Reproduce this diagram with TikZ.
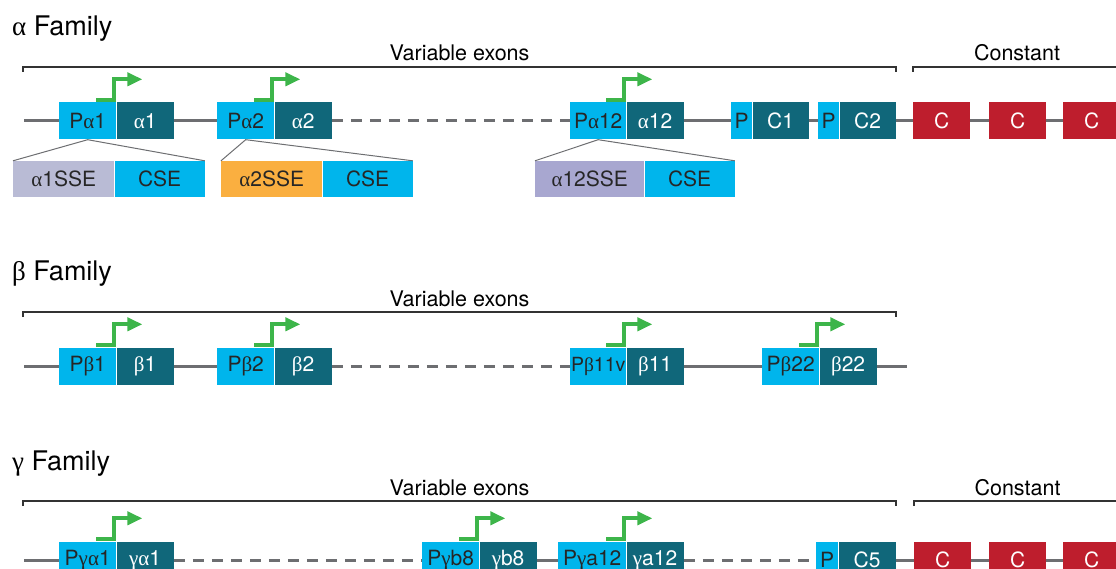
\documentclass[tikz,border=0pt]{standalone}
\usepackage{fontspec}
\setmainfont{TeX Gyre Heros}
\newfontfamily\greekfont{Liberation Serif}
\usetikzlibrary{positioning}
\usetikzlibrary{arrows.meta}
\definecolor{prom-cyan}{HTML}{00B5EC}
\definecolor{exon-teal}{HTML}{10677A}
\definecolor{const-red}{HTML}{BE1E2D}
\definecolor{tss-green}{HTML}{3DB54A}
\definecolor{line-gray}{HTML}{6D6E71}
\definecolor{sse-grey}{HTML}{B9BBD5}
\definecolor{sse-orange}{HTML}{FAAF40}
\definecolor{sse-lilac}{HTML}{A8A7D0}
\newcommand{\gk}[1]{{\greekfont #1}}
\tikzset{
  gene-box/.style={inner sep=0pt, minimum height=37pt, font=\fontsize{21}{21}\selectfont},
  prom-box/.style={gene-box, fill=prom-cyan, text=black!85, anchor=west},
  exon-box/.style={gene-box, fill=exon-teal, text=white},
  const-box/.style={gene-box, fill=const-red, text=white, minimum width=57pt, anchor=west},
  sse-box/.style={gene-box, fill=#1, text=black!85, minimum height=36pt, anchor=west},
  cse-box/.style={gene-box, fill=prom-cyan, text=black!85, minimum height=36pt, minimum width=90pt},
  gene-line/.style={line-gray, line width=3pt},
  gene-gap/.style={gene-line, dash pattern=on 11pt off 8pt},
  tss-arrow/.style={tss-green, line width=4pt, -{Triangle[length=15pt,width=13pt]}},
  fan-line/.style={line-gray, line width=1pt},
  bracket-line/.style={black!80, line width=1.4pt},
  family-title/.style={anchor=base west, inner sep=0pt, font=\fontsize{27}{27}\selectfont},
  bracket-label/.style={anchor=base, inner sep=0pt, font=\fontsize{21.5}{21.5}\selectfont},
}
% promoter box + exon box
\newcommand{\tikzgene}[7]{%
\node[prom-box, minimum width=#4] (p#1) at (#2,#3) {#5};
\node[exon-box, minimum width=#6, right=0pt of p#1] (e#1) {#7};
}
% transcription start arrow on a promoter
\newcommand{\tikztss}[1]{%
\draw[tss-arrow] ([xshift=-20pt,yshift=2pt]#1.north east) -| ++(18,-21) -- ++(28,0);
}
% SSE + CSE boxes fanned out of a promoter
\newcommand{\tikzsse}[7]{%
\node[sse-box=#5, minimum width=#4] (s#1) at (#2,#3) {#6};
\node[cse-box, right=0pt of s#1] (c#1) {CSE};
\draw[fan-line] (s#1.north west) -- (#7.south) -- (c#1.north east);
}
% bracket with label
\newcommand{\tikzbracket}[5]{%
\coordinate (#1l) at (#2,#4+5);
\coordinate (#1r) at (#3,#4+5);
\draw[bracket-line] (#1l) -- ++(0,-5) -| (#1r);
\node[bracket-label] (#1t) at ({(#2+#3)/2},#4-6) {#5};
}

\begin{document}
\begin{tikzpicture}[x=1pt, y=-1pt]
\useasboundingbox (0,0) rectangle (1116,569);
\clip (0,0) rectangle (1116,569);

% alpha family
\node[family-title] (ta) at (12,36) {\gk{α} Family};
\tikzbracket{va}{23}{896}{67}{Variable exons}
\tikzbracket{ca}{913}{1121}{67}{Constant}
\tikzgene{a1}{59}{121}{57}{P\gk{α}1}{57}{\gk{α}1}
\tikzgene{a2}{217}{121}{57}{P\gk{α}2}{57}{\gk{α}2}
\tikzgene{a12}{570}{121}{56}{P\gk{α}12}{57}{\gk{α}12}
\tikzgene{ac1}{731}{121}{21}{P}{56}{C1}
\tikzgene{ac2}{818}{121}{21}{P}{56}{C2}
\foreach \n/\x in {1/913,2/989,3/1063}
  \node[const-box] (ka\n) at (\x,121) {C};
\coordinate (a0) at (24,121);
\draw[gene-line] (a0) -- (pa1.west);
\draw[gene-line] (ea1.east) -- (pa2.west);
\draw[gene-gap] (ea2.east) -- (pa12.west);
\draw[gene-line] (ea12.east) -- (pac1.west);
\draw[gene-line] (eac1.east) -- (pac2.west);
\draw[gene-line] (eac2.east) -- (ka1.west);
\draw[gene-line] (ka1.east) -- (ka2.west);
\draw[gene-line] (ka2.east) -- (ka3.west);
\foreach \g in {a1,a2,a12} {\tikztss{p\g}}
\tikzsse{a1}{13}{179}{101}{sse-grey}{\gk{α}1SSE}{pa1}
\tikzsse{a2}{221}{179}{101}{sse-orange}{\gk{α}2SSE}{pa2}
\tikzsse{a12}{535}{179}{109}{sse-lilac}{\gk{α}12SSE}{pa12}

% beta family
\node[family-title] (tb) at (12,281) {\gk{β} Family};
\tikzbracket{vb}{23}{896}{312}{Variable exons}
\tikzgene{b1}{59}{366}{57}{P\gk{β}1}{57}{\gk{β}1}
\tikzgene{b2}{217}{366}{57}{P\gk{β}2}{57}{\gk{β}2}
\tikzgene{b11}{570}{366}{56}{\fontsize{19.5}{20}\selectfont P\gk{β}11v}{57}{\gk{β}11}
\tikzgene{b22}{762}{366}{57}{P\gk{β}22}{57}{\gk{β}22}
\coordinate (b0) at (24,366);
\coordinate (b9) at (907,366);
\draw[gene-line] (b0) -- (pb1.west);
\draw[gene-line] (eb1.east) -- (pb2.west);
\draw[gene-gap] (eb2.east) -- (pb11.west);
\draw[gene-line] (eb11.east) -- (pb22.west);
\draw[gene-line] (eb22.east) -- (b9);
\foreach \g in {b1,b2,b11,b22} {\tikztss{p\g}}

% gamma family
\node[family-title] (tg) at (12,470) {\gk{γ} Family};
\tikzbracket{vg}{23}{896}{501}{Variable exons}
\tikzbracket{cg}{914}{1121}{501}{Constant}
\tikzgene{g1}{59}{560}{57}{P\gk{γα}1}{57}{\gk{γα}1}
\tikzgene{g8}{422}{560}{57}{P\gk{γ}b8}{57}{\gk{γ}b8}
\tikzgene{g12}{558}{560}{68}{P\gk{γ}a12}{57}{\gk{γ}a12}
\tikzgene{gc5}{816}{560}{22}{P}{57}{C5}
\foreach \n/\x in {1/914,2/989,3/1063}
  \node[const-box] (kg\n) at (\x,560) {C};
\coordinate (g0) at (24,560);
\draw[gene-line] (g0) -- (pg1.west);
\draw[gene-gap] (eg1.east) -- (pg8.west);
\draw[gene-line] (eg8.east) -- (pg12.west);
\draw[gene-gap] (eg12.east) -- (pgc5.west);
\draw[gene-line] (egc5.east) -- (kg1.west);
\draw[gene-line] (kg1.east) -- (kg2.west);
\draw[gene-line] (kg2.east) -- (kg3.west);
\foreach \g in {g1,g8,g12} {\tikztss{p\g}}
\end{tikzpicture}
\end{document}
